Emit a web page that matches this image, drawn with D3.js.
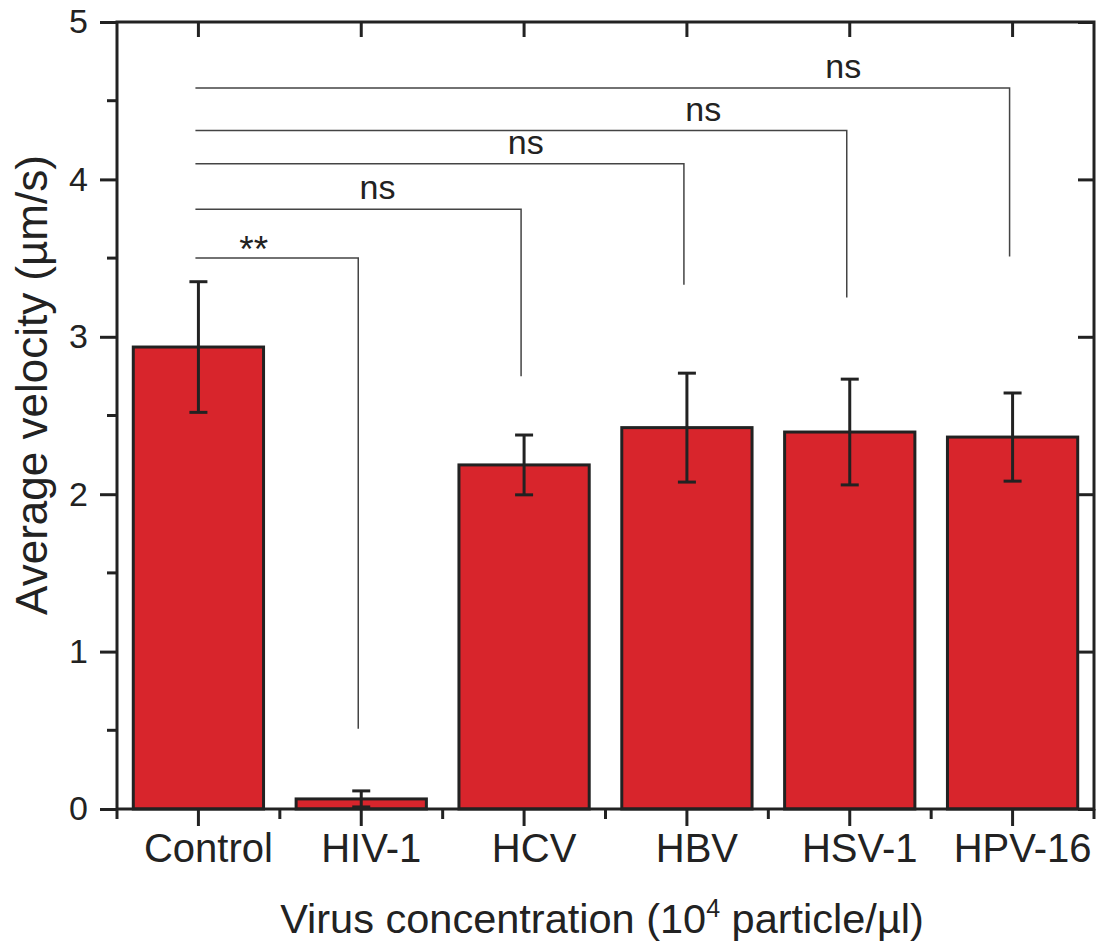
<!DOCTYPE html>
<html>
<head>
<meta charset="utf-8">
<script src="https://cdn.jsdelivr.net/npm/d3@7"></script>
<style>
  body { margin: 0; background: #fff; }
  svg text { font-family: "Liberation Sans", Arial, Helvetica, sans-serif; fill: #222; }
</style>
</head>
<body>
<svg id="chart" width="1100" height="947"></svg>
<script>
var width = 1100, height = 947;

// data
var categories = ["Control", "HIV-1", "HCV", "HBV", "HSV-1", "HPV-16"];
var velocity = [2.935, 0.064, 2.186, 2.423, 2.395, 2.363];
var velocityErr = [0.415, 0.051, 0.19, 0.346, 0.336, 0.28];
var yTicks = [0, 1, 2, 3, 4, 5];

// significance brackets: Control vs each virus
var sigTargets = ["HIV-1", "HCV", "HBV", "HSV-1", "HPV-16"];
var sigLevel = [3.50, 3.81, 4.10, 4.31, 4.58];
var sigDrop = [0.51, 2.75, 3.33, 3.25, 3.51];
var sigText = ["**", "ns", "ns", "ns", "ns"];

var data = categories.map(function (c, i) {
        return { name: c, value: velocity[i], err: velocityErr[i] };
});

var margin = { left: 117, right: 6, top: 22, bottom: 138 };

var x = d3.scaleBand()
        .domain(categories)
        .range([margin.left, width - margin.right])
        .paddingInner(0.2)
        .paddingOuter(0.1);

var y = d3.scaleLinear()
        .domain([0, 5])
        .range([height - margin.bottom, margin.top]);

var svg = d3.select("#chart");
var ink = "#222";
var cx = function (c) { return x(c) + x.bandwidth() / 2; };

// bars
svg.selectAll(".bar")
        .data(data)
        .enter().append("rect")
        .attr("class", "bar")
        .attr("x", function (d) { return x(d.name); })
        .attr("width", x.bandwidth())
        .attr("y", function (d) { return y(d.value); })
        .attr("height", function (d) { return y(0) - y(d.value); })
        .style("fill", "#d8252c")
        .style("stroke", ink)
        .style("stroke-width", 3);

// error bars
var eb = svg.selectAll(".err")
        .data(data)
        .enter().append("g")
        .attr("class", "err")
        .style("stroke", ink)
        .style("stroke-width", 3);

eb.append("line")
        .attr("x1", function (d) { return cx(d.name); })
        .attr("x2", function (d) { return cx(d.name); })
        .attr("y1", function (d) { return y(d.value + d.err); })
        .attr("y2", function (d) { return y(d.value - d.err); });

[1, -1].forEach(function (s) {
        eb.append("line")
                .attr("x1", function (d) { return cx(d.name) - 9; })
                .attr("x2", function (d) { return cx(d.name) + 9; })
                .attr("y1", function (d) { return y(d.value + s * d.err); })
                .attr("y2", function (d) { return y(d.value + s * d.err); });
});

// significance brackets
var sigLabelAt = [0.34, 1.10, 2.01, 3.10, 3.96]; // label centre, in category steps from Control
var x0 = cx("Control") - 3;

sigTargets.forEach(function (t, i) {
        var xt = cx(t) - 3;
        svg.append("path")
                .attr("d", "M" + x0 + "," + y(sigLevel[i]) + "H" + xt + "V" + y(sigDrop[i]))
                .style("fill", "none")
                .style("stroke", "#444")
                .style("stroke-width", 1.5);

        svg.append("text")
                .attr("x", cx("Control") + sigLabelAt[i] * x.step())
                .attr("y", y(sigLevel[i]) + (sigText[i] === "**" ? 4 : -10))
                .attr("text-anchor", "middle")
                .style("font-size", sigText[i] === "**" ? "37px" : "34px")
                .text(sigText[i]);
});

// frame
svg.append("rect")
        .attr("x", margin.left)
        .attr("y", margin.top)
        .attr("width", width - margin.right - margin.left)
        .attr("height", y(0) - margin.top)
        .style("fill", "none")
        .style("stroke", ink)
        .style("stroke-width", 3);

// bottom axis
var xAxis = d3.axisBottom(x).tickSize(17).tickPadding(8);
var gx = svg.append("g")
        .attr("transform", "translate(0," + y(0) + ")")
        .call(xAxis);
gx.select(".domain").remove();
gx.selectAll("line").style("stroke", ink).style("stroke-width", 3);
gx.selectAll("text").attr("dx", 10).style("font-size", "40px").style("fill", ink);

var bounds = categories.map(function (c) { return x(c) - x.step() * x.paddingInner() / 2; });
bounds.push(width - margin.right);
svg.selectAll(".xminor")
        .data(bounds)
        .enter().append("line")
        .attr("x1", function (d) { return d; })
        .attr("x2", function (d) { return d; })
        .attr("y1", y(0))
        .attr("y2", y(0) + 10)
        .style("stroke", ink)
        .style("stroke-width", 3);

// top axis, ticks inward
var gt = svg.append("g")
        .attr("transform", "translate(0," + margin.top + ")")
        .call(d3.axisTop(x).tickSize(-15).tickFormat(""));
gt.select(".domain").remove();
gt.selectAll("line").style("stroke", ink).style("stroke-width", 3);

// left axis
var yAxis = d3.axisLeft(y).tickValues(yTicks).tickSize(17).tickPadding(12).tickFormat(d3.format("d"));
var gy = svg.append("g")
        .attr("transform", "translate(" + margin.left + ",0)")
        .call(yAxis);
gy.select(".domain").remove();
gy.selectAll("line").style("stroke", ink).style("stroke-width", 3);
gy.selectAll("text").style("font-size", "34px").style("fill", ink);

svg.selectAll(".yminor")
        .data(yTicks.slice(0, -1).map(function (v) { return v + 0.5; }))
        .enter().append("line")
        .attr("x1", margin.left - 10)
        .attr("x2", margin.left)
        .attr("y1", function (d) { return y(d); })
        .attr("y2", function (d) { return y(d); })
        .style("stroke", ink)
        .style("stroke-width", 3);

// right axis, ticks inward
var gr = svg.append("g")
        .attr("transform", "translate(" + (width - margin.right) + ",0)")
        .call(d3.axisRight(y).tickValues(yTicks).tickSize(-16).tickFormat(""));
gr.select(".domain").remove();
gr.selectAll("line").style("stroke", ink).style("stroke-width", 3);

// axis titles
svg.append("text")
        .attr("transform", "translate(47," + 385 + ") rotate(-90)")
        .attr("text-anchor", "middle")
        .style("font-size", "44px")
        .text("Average velocity (\u00b5m/s)");

var xt = svg.append("text")
        .attr("x", 602)
        .attr("y", 933)
        .attr("text-anchor", "middle")
        .style("font-size", "41.5px");
xt.append("tspan").text("Virus concentration (10");
xt.append("tspan").attr("dy", -16).style("font-size", "25px").text("4");
xt.append("tspan").attr("dy", 16).text(" particle/\u00b5l)");
</script>
</body>
</html>
